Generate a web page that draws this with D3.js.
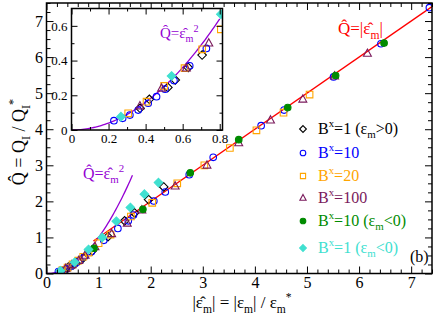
<!DOCTYPE html>
<html><head><meta charset="utf-8">
<script src="https://cdn.jsdelivr.net/npm/d3@7"></script>
<style>
body{margin:0;background:#fff;}
</style></head>
<body><svg id="c" width="438" height="319"></svg>
<script>
// ---------- data ----------
const serB1pos = [[0.37,0.125],[0.42,0.177],[0.52,0.245],[0.56,0.288],[0.63,0.36],[0.705,0.432],[0.88,0.63],[1.18,1.02],[1.5,1.46],[1.69,1.68],[1.96,2.05],[2.25,2.40]];
const serB10 = [[0.229,0.054],[0.276,0.067],[0.315,0.086],[0.36,0.115],[0.414,0.154],[0.459,0.192],[0.505,0.235],[0.553,0.285],[0.638,0.37],[0.728,0.47],[0.86,0.6],[1.10,0.92],[1.37,1.25],[1.57,1.46],[1.67,1.62],[2.06,2.01],[2.28,2.26],[2.74,2.74],[3.20,3.22],[4.12,4.10],[4.56,4.53],[5.51,5.45],[6.42,6.37],[7.35,7.37]];
const serB20 = [[0.306,0.096],[0.405,0.163],[0.50,0.254],[0.61,0.356],[0.705,0.465],[0.806,0.58],[1.0,0.84],[1.23,1.08],[1.62,1.58],[2.03,1.96],[2.51,2.50],[3.03,3.00],[3.52,3.48],[4.03,3.97],[4.55,4.46],[5.05,4.96]];
const serB100 = [[0.369,0.138],[0.486,0.24],[0.62,0.356],[0.741,0.50],[0.93,0.74],[1.25,1.10],[1.55,1.39],[1.83,1.76],[2.47,2.42],[3.08,3.00],[3.69,3.62],[4.30,4.25],[4.92,4.83],[5.53,5.47],[6.16,6.10]];
const serB10neg = [[0.91,0.70],[1.85,1.78],[2.76,2.79],[3.69,3.71],[4.63,4.60],[5.55,5.49],[6.48,6.39]];
const serB1neg = [[0.267,0.077],[0.54,0.311],[0.806,0.667],[1.07,1.00],[1.34,1.45],[1.61,1.83],[1.88,2.20],[2.15,2.52]];
const mainXTicks = [0,1,2,3,4,5,6,7];
const mainYTicks = [0,1,2,3,4,5,6,7];
const insetXTicks = [0,0.2,0.4,0.6,0.8];
const insetYTicks = [0,0.2,0.4,0.6];
const legendLabels = ["B^x=1 (ε_m>0)","B^x=10","B^x=20","B^x=100","B^x=10 (ε_m<0)","B^x=1 (ε_m<0)"];
const HAT = "\u0302";

// ---------- styles ----------
const FONT = "'Liberation Serif','Times New Roman',serif";
const series = [
  {d:serB1pos, shape:"diamond", col:"#000000", fill:"none"},
  {d:serB10, shape:"circle", col:"#0000ff", fill:"none"},
  {d:serB20, shape:"square", col:"#ffa500", fill:"none"},
  {d:serB100, shape:"triangle", col:"#7a1a5c", fill:"none"},
  {d:serB10neg, shape:"circle", col:"#008b00", fill:"#008b00"},
  {d:serB1neg, shape:"diamond", col:"#40e0d0", fill:"#40e0d0"}
];
const PURPLE="#9400d3", RED="#ff0000";
const svg = d3.select("#c");
svg.append("rect").attr("width",438).attr("height",319).attr("fill","#fff");

function markerPath(shape, s){
  if(shape==="square") return `M${-s},${-s}H${s}V${s}H${-s}Z`;
  if(shape==="diamond") return `M0,${-s*1.3}L${s*1.3},0L0,${s*1.3}L${-s*1.3},0Z`;
  if(shape==="triangle") return `M0,${-s*1.35}L${s*1.2},${s*0.85}L${-s*1.2},${s*0.85}Z`;
}
function drawMarker(g, shape, x, y, s, col, fill){
  if(shape==="circle"){
    g.append("circle").attr("cx",x).attr("cy",y).attr("r",s).attr("fill",fill).attr("stroke",col).attr("stroke-width",1.1);
  } else {
    g.append("path").attr("transform",`translate(${x},${y})`).attr("d",markerPath(shape,s)).attr("fill",fill).attr("stroke",col).attr("stroke-width",1.1);
  }
}
// rich text: ^ superscript, _ subscript
function rich(g, x, y, str, size, col, anchor){
  const t = g.append("text").attr("x",x).attr("y",y).attr("font-size",size).attr("fill",col);
  if(anchor) t.attr("text-anchor",anchor);
  const re = /([\^_])(\{[^}]*\}|.)/g;
  let last=0, m, shift=0;
  const parts=[];
  while((m=re.exec(str))){ if(m.index>last) parts.push({t:str.slice(last,m.index),k:0}); let v=m[2]; if(v[0]==="{") v=v.slice(1,-1); parts.push({t:v,k:m[1]==="^"?1:-1}); last=re.lastIndex; }
  if(last<str.length) parts.push({t:str.slice(last),k:0});
  parts.forEach(p=>{
    const target = p.k===1 ? -0.42*size : p.k===-1 ? 0.28*size : 0;
    const sp = t.append("tspan").text(p.t).attr("dy",target-shift);
    if(p.k!==0) sp.attr("font-size",size*0.68);
    shift=target;
  });
  return t;
}

function axes(g, x, y, xt, xminor, yt, yminor, fsz, fmt, maj, mino, pad){
  const [x0,x1]=x.range(), [y0,y1]=y.range();
  const mk=(ax,tv,len,withLab,tr)=>{
    const a=ax.tickValues(tv).tickSize(-len).tickPadding(pad);
    a.tickFormat(withLab?fmt:"");
    const gg=g.append("g").attr("transform",tr).call(a);
    gg.attr("font-family",null);
    gg.select(".domain").remove();
    gg.selectAll("line").attr("stroke","#000").attr("stroke-width",1);
    gg.selectAll("text").attr("font-size",fsz).attr("fill","#000");
    return gg;
  };
  mk(d3.axisBottom(x),xt,maj,true,`translate(0,${y0})`);
  mk(d3.axisBottom(x),xminor,mino,false,`translate(0,${y0})`);
  mk(d3.axisTop(x),xt,maj,false,`translate(0,${y1})`);
  mk(d3.axisTop(x),xminor,mino,false,`translate(0,${y1})`);
  mk(d3.axisLeft(y),yt,maj,true,`translate(${x0},0)`);
  mk(d3.axisLeft(y),yminor,mino,false,`translate(${x0},0)`);
  mk(d3.axisRight(y),yt,maj,false,`translate(${x1},0)`);
  mk(d3.axisRight(y),yminor,mino,false,`translate(${x1},0)`);
  g.append("rect").attr("x",x0).attr("y",y1).attr("width",x1-x0).attr("height",y0-y1).attr("fill","none").attr("stroke","#000").attr("stroke-width",1.5);
}

// ---------- main plot ----------
const x = d3.scaleLinear().domain([0,7.4]).range([46.5,432]);
const y = d3.scaleLinear().domain([0,7.5]).range([273.5,3]);
const main = svg.append("g");
main.append("clipPath").attr("id","cm").append("rect").attr("x",46.5).attr("y",3).attr("width",385.5).attr("height",270.5);
const dm = main.append("g").attr("clip-path","url(#cm)");
const line = d3.line().x(d=>x(d[0])).y(d=>y(d[1]));
dm.append("path").attr("d",line([[0.9,0.9],[7.4,7.4]])).attr("stroke",RED).attr("stroke-width",1.3).attr("fill","none");
const parab = d3.range(0,1.651,0.025).map(v=>[v,v*v]);
dm.append("path").attr("d",line(parab)).attr("stroke",PURPLE).attr("stroke-width",1.3).attr("fill","none");
series.forEach(s=>s.d.forEach(p=>drawMarker(dm,s.shape,x(p[0]),y(p[1]),3.3,s.col,s.fill)));
const minorX = d3.range(0,7.41,0.2).filter(v=>Math.abs(v-Math.round(v))>1e-6);
const minorY = d3.range(0,7.51,0.25).filter(v=>Math.abs(v-Math.round(v))>1e-6);
axes(main,x,y,mainXTicks,minorX,mainYTicks,minorY,16,d3.format("d"),7,4,3.5);

// legend
const legY=[129,153,176,198,221,248];
series.forEach((s,i)=>{
  drawMarker(svg,s.shape,303,legY[i],s.shape==="circle"?2.8:2.6,s.col,s.fill);
  rich(svg,318,legY[i]+5,legendLabels[i],16,s.col);
});
svg.append("text").attr("x",410).attr("y",262).attr("font-size",16).text("(b)");

// annotations
rich(svg,338,34,"Q"+HAT+"=|ε"+HAT+"_m|",17,RED);
rich(svg,83,179,"Q"+HAT+"=ε"+HAT+"_m^2",16,PURPLE);

// axis titles
const yt = svg.append("g").attr("transform","translate(25,142) rotate(-90)");
rich(yt,0,0,"Q"+HAT+" = Q_I / Q_I^*",18,"#000","middle");
rich(svg,242,308,"|ε"+HAT+"_m| = |ε_m| / ε_m^*",17,"#000","middle");

// ---------- inset ----------
const xi = d3.scaleLinear().domain([0,0.815]).range([71.5,222.5]);
const yi = d3.scaleLinear().domain([0,0.7]).range([130,8.5]);
const ins = svg.append("g");
ins.append("rect").attr("x",71.5).attr("y",8.5).attr("width",151).attr("height",121.5).attr("fill","#fff");
ins.append("clipPath").attr("id","ci").append("rect").attr("x",71.5).attr("y",8.5).attr("width",151).attr("height",121.5);
const di = ins.append("g").attr("clip-path","url(#ci)");
const linei = d3.line().x(d=>xi(d[0])).y(d=>yi(d[1]));
di.append("path").attr("d",linei(d3.range(0,0.8001,0.01).map(v=>[v,v*v]))).attr("stroke",PURPLE).attr("stroke-width",1.3).attr("fill","none");
series.forEach(s=>s.d.filter(p=>p[0]<=0.82&&p[1]<=0.72).forEach(p=>drawMarker(di,s.shape,xi(p[0]),yi(p[1]),3.3,s.col,s.fill)));
const minorXi=[0.1,0.3,0.5,0.7], minorYi=[0.1,0.3,0.5];
axes(ins,xi,yi,insetXTicks,minorXi,insetYTicks,minorYi,13,v=>v===0?"0":d3.format(".1f")(v),6,3,4);
rich(ins,160,38,"Q"+HAT+"=ε"+HAT+"_m^2",15,PURPLE);

svg.selectAll("text").style("font-family",FONT);
</script></body></html>
